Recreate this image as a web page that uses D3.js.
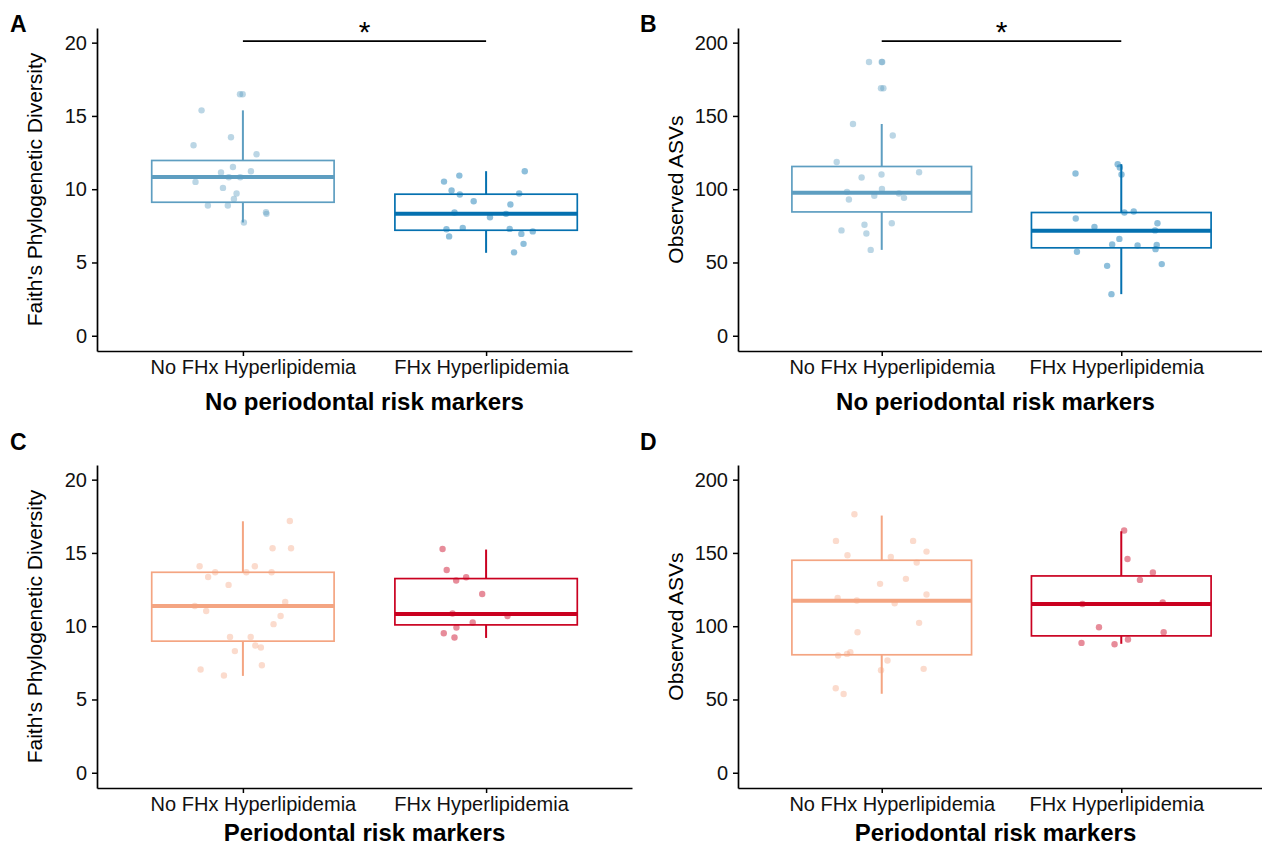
<!DOCTYPE html>
<html>
<head>
<meta charset="utf-8">
<script src="https://cdn.jsdelivr.net/npm/d3@7"></script>
<style>
  body { margin: 0; background: #fff; }
  svg text { font-family: "Liberation Sans", Arial, Helvetica, sans-serif; }
</style>
</head>
<body>
<div id="chart"></div>
<script>
// ---------- data ----------
var groups = ["No FHx Hyperlipidemia", "FHx Hyperlipidemia"];
var faithTicks = [0, 5, 10, 15, 20];
var asvTicks = [0, 50, 100, 150, 200];

// points: [value, jitter (fraction of category step)]
var faithNoPerioNoFHx = [[16.48,-0.012],[16.48,-0.001],[15.38,-0.17],[13.55,-0.049],[13.0,-0.203],[12.39,0.056],[11.52,-0.041],[11.23,0.033],[11.14,-0.09],[10.82,-0.058],[10.82,-0.011],[10.5,-0.195],[10.09,-0.082],[9.71,-0.026],[9.34,-0.037],[8.89,-0.144],[8.89,-0.062],[8.43,0.095],[8.32,0.097],[7.73,0.004]];
var faithNoPerioFHx = [[10.93,-0.11],[11.23,0.159],[10.52,-0.173],[9.91,-0.142],[9.64,-0.108],[9.71,0.136],[9.18,-0.051],[8.96,0.1],[8.41,-0.13],[8.32,0.082],[8.09,0.016],[7.27,-0.163],[7.36,-0.096],[7.29,0.097],[6.95,0.145],[7.12,0.192],[6.78,-0.152],[6.27,0.154],[5.69,0.115]];
var asvNoPerioNoFHx = [[186.8,-0.053],[186.8,0],[186.8,0.002],[168.9,-0.003],[168.9,0.007],[144.5,-0.12],[136.6,0.046],[118.6,-0.188],[111.6,0.156],[108.0,-0.084],[110.0,-0.001],[100.2,0.001],[98.2,-0.145],[97.1,0.072],[95.5,-0.031],[94.1,0.093],[93.0,-0.137],[76.8,0.042],[75.7,-0.072],[71.9,-0.168],[69.8,-0.064],[58.6,-0.046]];
var asvNoPerioFHx = [[117.1,-0.015],[114.8,-0.006],[110.0,0.001],[110.7,-0.191],[84.1,0.013],[84.8,0.052],[80.0,-0.19],[76.8,0.151],[74.3,-0.112],[71.9,0.141],[66.1,-0.008],[62.3,-0.038],[61.6,0.068],[62.0,0.148],[59.1,0.143],[57.3,-0.185],[47.7,-0.059],[48.9,0.169],[28.4,-0.041]];
var faithPerioNoFHx = [[17.18,0.193],[15.32,0.122],[15.32,0.198],[14.09,-0.178],[14.09,0.049],[13.68,-0.114],[13.36,-0.143],[13.68,0.014],[13.68,0.118],[12.82,-0.059],[11.66,0.174],[11.38,-0.198],[11.04,-0.151],[10.70,0.155],[10.14,0.126],[9.27,-0.053],[9.27,0.032],[8.68,0.051],[8.55,0.074],[8.3,-0.033],[7.34,0.078],[7.05,-0.174],[6.64,-0.078]];
var faithPerioFHx = [[15.27,-0.179],[13.84,-0.162],[13.12,-0.123],[13.34,-0.082],[12.2,-0.016],[10.87,-0.138],[10.70,0.088],[10.25,-0.055],[9.91,-0.122],[9.52,-0.174],[9.23,-0.13]];
var asvPerioNoFHx = [[176.4,-0.114],[158.2,-0.191],[158.2,0.131],[150.9,0.187],[148.4,-0.143],[147.3,0.038],[143.4,0.146],[132.3,0.101],[128.9,-0.007],[121.6,0.187],[119.3,-0.184],[117.5,-0.104],[115.7,0.054],[102.3,0.156],[95.9,-0.101],[82.3,-0.131],[81.1,-0.145],[80.0,-0.182],[76.6,0.024],[70.0,-0.003],[70.9,0.175],[57.7,-0.192],[53.7,-0.159]];
var asvPerioFHx = [[165.3,0.012],[145.9,0.026],[136.6,0.132],[131.6,0.078],[115.2,-0.162],[116.2,0.173],[99.3,-0.093],[95.9,0.177],[88.6,-0.166],[87.7,-0.028],[90.9,0.028]];

// box summaries: [lower whisker, Q1, median, Q3, upper whisker]
var boxFaithNoPerio = [[7.73, 9.11, 10.84, 11.96, 15.38], [5.66, 7.2, 8.32, 9.66, 11.23]];
var boxAsvNoPerio = [[58.6, 84.5, 97.5, 115.5, 144.5], [28.4, 60.0, 71.6, 84.1, 117.1]];
var boxFaithPerio = [[6.61, 8.98, 11.38, 13.68, 17.16], [9.2, 10.09, 10.84, 13.25, 15.23]];
var boxAsvPerio = [[53.9, 80.5, 117.3, 145.0, 175.5], [88.0, 93.4, 115.2, 134.3, 164.8]];

// significance bar heights (only top row)
var sigFaith = 20.1, sigAsv = 201;

// ---------- styles ----------
var blues = [{line: "#5e9ec1", op: 0.42}, {line: "#0571b0", op: 0.45}];
var reds = [{line: "#f4a582", op: 0.4}, {line: "#ca0020", op: 0.45}];
var labelShift = [10, -5]; // tick labels sit a little off their ticks in the original

var panels = [
  {letter: "A", ytitle: "Faith's Phylogenetic Diversity", xtitle: "No periodontal risk markers",
   pts: [faithNoPerioNoFHx, faithNoPerioFHx], box: boxFaithNoPerio, ticks: faithTicks, ydom: [-1.04, 21.0], pal: blues, sig: sigFaith},
  {letter: "B", ytitle: "Observed ASVs", xtitle: "No periodontal risk markers",
   pts: [asvNoPerioNoFHx, asvNoPerioFHx], box: boxAsvNoPerio, ticks: asvTicks, ydom: [-10.4, 210], pal: blues, sig: sigAsv},
  {letter: "C", ytitle: "Faith's Phylogenetic Diversity", xtitle: "Periodontal risk markers",
   pts: [faithPerioNoFHx, faithPerioFHx], box: boxFaithPerio, ticks: faithTicks, ydom: [-1.04, 21.0], pal: reds, sig: null},
  {letter: "D", ytitle: "Observed ASVs", xtitle: "Periodontal risk markers",
   pts: [asvPerioNoFHx, asvPerioFHx], box: boxAsvPerio, ticks: asvTicks, ydom: [-10.4, 210], pal: reds, sig: null}
];

// plot frames (pixels); tb = title baseline below axis, tx = title x nudge
var frames = {
  A: {x0: 97,  x1: 632,  y0: 28,  y1: 351, lx: 10,  ly: 32,  tb: 59, tx: 0},
  B: {x0: 738, x1: 1265, y0: 28,  y1: 351, lx: 640, ly: 32,  tb: 59, tx: -6},
  C: {x0: 97,  x1: 632,  y0: 465, y1: 788, lx: 10,  ly: 450, tb: 53, tx: 0},
  D: {x0: 738, x1: 1265, y0: 465, y1: 788, lx: 640, ly: 450, tb: 53, tx: -6}
};

var W = 1262, H = 847;
var svg = d3.select("#chart").append("svg")
  .attr("width", W).attr("height", H);

panels.forEach(function(p) {
  var f = frames[p.letter];
  var x = d3.scalePoint().domain(groups).range([f.x0, f.x1]).padding(0.6);
  var y = d3.scaleLinear().domain(p.ydom).range([f.y1, f.y0]);
  var step = x.step();
  var bw = 0.75 * step;
  var g = svg.append("g");

  // boxes
  p.box.forEach(function(b, i) {
    var cx = x(groups[i]);
    var col = p.pal[i].line;
    var bg = g.append("g").attr("stroke", col).attr("fill", "none");
    bg.append("line").attr("x1", cx).attr("x2", cx).attr("y1", y(b[4])).attr("y2", y(b[3])).attr("stroke-width", 2);
    bg.append("line").attr("x1", cx).attr("x2", cx).attr("y1", y(b[1])).attr("y2", y(b[0])).attr("stroke-width", 2);
    bg.append("rect")
      .attr("x", cx - bw / 2).attr("width", bw)
      .attr("y", y(b[3])).attr("height", y(b[1]) - y(b[3]))
      .attr("fill", "#fff").attr("stroke-width", 1.7);
    bg.append("line").attr("x1", cx - bw / 2).attr("x2", cx + bw / 2)
      .attr("y1", y(b[2])).attr("y2", y(b[2])).attr("stroke-width", 4);
  });

  // jittered points
  p.pts.forEach(function(arr, i) {
    var cx = x(groups[i]);
    g.selectAll(null)
      .data(arr)
      .enter()
      .append("circle")
        .attr("cx", function(d) { return cx + d[1] * step; })
        .attr("cy", function(d) { return y(d[0]); })
        .attr("r", 3.2)
        .attr("fill", p.pal[i].line)
        .attr("fill-opacity", p.pal[i].op);
  });

  // axes
  var ya = g.append("g")
    .attr("transform", "translate(" + f.x0 + ",0)")
    .call(d3.axisLeft(y).tickValues(p.ticks).tickSize(5).tickSizeOuter(0).tickPadding(5));
  var xa = g.append("g")
    .attr("transform", "translate(0," + f.y1 + ")")
    .call(d3.axisBottom(x).tickSize(5).tickSizeOuter(0).tickPadding(4));
  [ya, xa].forEach(function(a) {
    a.attr("font-size", null).attr("font-family", null);
    a.select(".domain").attr("stroke", "#000").attr("stroke-width", 1.7);
    a.selectAll(".tick line").attr("stroke", "#000").attr("stroke-width", 1.5);
    a.selectAll(".tick text").attr("fill", "#111").style("font-size", "20px");
  });
  xa.selectAll(".tick text").attr("x", function(d, i) { return labelShift[i]; });

  // axis titles
  g.append("text")
    .attr("transform", "translate(" + (f.x0 - 55) + "," + ((f.y0 + f.y1) / 2) + ") rotate(-90)")
    .attr("text-anchor", "middle")
    .style("font-size", "21px")
    .attr("fill", "#000")
    .text(p.ytitle);
  g.append("text")
    .attr("x", (f.x0 + f.x1) / 2 + f.tx)
    .attr("y", f.y1 + f.tb)
    .attr("text-anchor", "middle")
    .style("font-size", "24px")
    .style("font-weight", "bold")
    .text(p.xtitle);

  // panel letter
  svg.append("text")
    .attr("x", f.lx).attr("y", f.ly)
    .style("font-size", "23px").style("font-weight", "bold")
    .text(p.letter);

  // significance bar
  if (p.sig !== null) {
    g.append("line")
      .attr("x1", x(groups[0])).attr("x2", x(groups[1]))
      .attr("y1", y(p.sig)).attr("y2", y(p.sig))
      .attr("stroke", "#000").attr("stroke-width", 1.8);
    g.append("text")
      .attr("x", (x(groups[0]) + x(groups[1])) / 2)
      .attr("y", y(p.sig) + 1)
      .attr("text-anchor", "middle")
      .style("font-size", "30px")
      .text("*");
  }
});
</script>
</body>
</html>
